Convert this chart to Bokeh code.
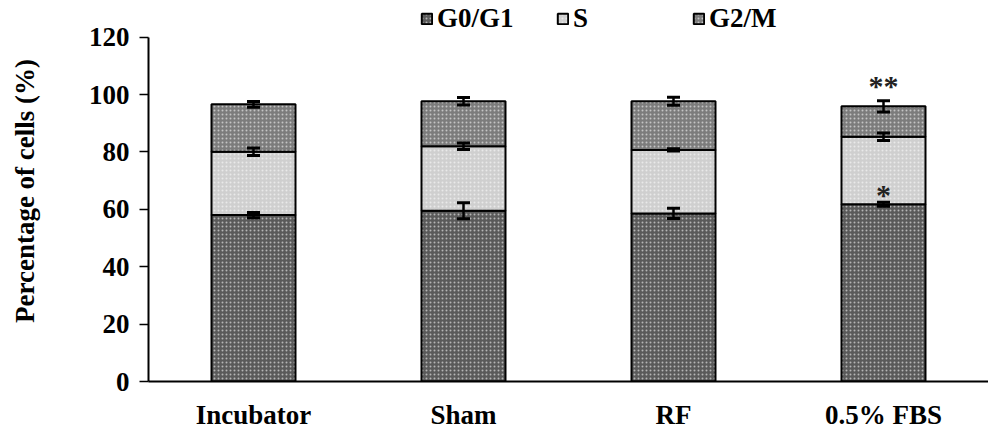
from bokeh.plotting import figure
from bokeh.models import ColumnDataSource, FactorRange, FixedTicker, Whisker, TeeHead, Legend, LegendItem, Range1d
from bokeh.core.properties import value
from bokeh.embed import file_html
from bokeh.resources import INLINE

categories = ["Incubator", "Sham", "RF", "0.5% FBS"]
g0g1 = [58.0, 59.5, 58.6, 61.8]
s_phase = [22.1, 22.5, 22.1, 23.5]
g2m = [16.5, 15.7, 17.0, 10.6]
g0g1_err = [0.9, 2.8, 1.8, 0.7]
s_err = [1.3, 1.1, 0.4, 1.3]
g2m_err = [1.0, 1.3, 1.4, 2.0]
significance_g0g1 = ["", "", "", "*"]
significance_g2m = ["", "", "", "**"]
y_ticks = [0, 20, 40, 60, 80, 100, 120]

FONT = "Liberation Serif"

s_bottom = g0g1
s_top = [a + b for a, b in zip(g0g1, s_phase)]
g_top = [a + b for a, b in zip(s_top, g2m)]

src = ColumnDataSource(dict(
    cat=categories, g0g1=g0g1, s_bottom=s_bottom, s_top=s_top, g_top=g_top,
    g0_lo=[v - e for v, e in zip(g0g1, g0g1_err)], g0_hi=[v + e for v, e in zip(g0g1, g0g1_err)],
    s_lo=[v - e for v, e in zip(s_top, s_err)], s_hi=[v + e for v, e in zip(s_top, s_err)],
    g_lo=[v - e for v, e in zip(g_top, g2m_err)], g_hi=[v + e for v, e in zip(g_top, g2m_err)],
    sig0=significance_g0g1, sig2=significance_g2m,
))

# frame spans the full height above the x axis; the y axis line itself stops at 120
p = figure(width=988, height=432, x_range=FactorRange(*categories, range_padding=0),
           y_range=Range1d(0, 132.8), output_backend="svg", toolbar_location=None,
           min_border_left=148, min_border_right=0, min_border_top=0, min_border_bottom=47)
p.outline_line_color = None
p.grid.grid_line_color = None
p.background_fill_color = "white"

common = dict(width=0.4, line_color="black", line_width=2, hatch_pattern="dot",
              hatch_color="white", hatch_alpha=0.55, hatch_scale=4, hatch_weight=1.2)
r1 = p.vbar(x="cat", bottom=0, top="g0g1", source=src, fill_color="#5a5a5a", **common)
r2 = p.vbar(x="cat", bottom="s_bottom", top="s_top", source=src, fill_color="#cfcfcf", **common)
r3 = p.vbar(x="cat", bottom="s_top", top="g_top", source=src, fill_color="#7c7c7c", **common)

for lo, hi in [("g0_lo", "g0_hi"), ("s_lo", "s_hi"), ("g_lo", "g_hi")]:
    w = Whisker(source=src, base="cat", lower=lo, upper=hi, line_color="black", line_width=2.5,
                level="annotation",
                upper_head=TeeHead(size=13, line_width=3, line_color="black"),
                lower_head=TeeHead(size=13, line_width=3, line_color="black"))
    p.add_layout(w)

t0 = p.text(x="cat", y="g0_hi", text="sig0", source=src, text_font=value(FONT), text_font_style="bold",
            text_font_size="30px", text_align="center", text_baseline="alphabetic", y_offset=-8,
            text_color="#222222")
t2 = p.text(x="cat", y="g_hi", text="sig2", source=src, text_font=value(FONT), text_font_style="bold",
            text_font_size="30px", text_align="center", text_baseline="alphabetic", y_offset=-15,
            text_color="#222222")
t0.level = "overlay"
t2.level = "overlay"

# axes
p.yaxis.ticker = FixedTicker(ticks=y_ticks)
p.yaxis.bounds = (0, 120)
p.yaxis.minor_tick_line_color = None
p.yaxis.major_tick_in = 0
p.yaxis.major_tick_out = 9
p.yaxis.major_tick_line_width = 1.5
p.yaxis.axis_line_width = 2
p.yaxis.axis_line_color = "black"
p.yaxis.major_label_text_font = FONT
p.yaxis.major_label_text_font_style = "bold"
p.yaxis.major_label_text_font_size = "27px"
p.yaxis.major_label_text_color = "black"
p.yaxis.major_label_standoff = 10
p.yaxis.axis_label = "Percentage of cells (%)"
p.yaxis.axis_label_text_font = FONT
p.yaxis.axis_label_text_font_style = "bold"
p.yaxis.axis_label_text_font_size = "27px"
p.yaxis.axis_label_text_color = "black"
p.yaxis.axis_label_standoff = 46

p.xaxis.major_tick_line_color = None
p.xaxis.minor_tick_line_color = None
p.xaxis.axis_line_width = 2
p.xaxis.axis_line_color = "black"
p.xaxis.major_label_text_font = FONT
p.xaxis.major_label_text_font_style = "bold"
p.xaxis.major_label_text_font_size = "27px"
p.xaxis.major_label_text_color = "black"
p.xaxis.major_label_standoff = 12

legend = Legend(items=[LegendItem(label="G0/G1", renderers=[r1]),
                       LegendItem(label="S", renderers=[r2]),
                       LegendItem(label="G2/M", renderers=[r3])],
                orientation="horizontal", location=(272, 347), padding=0, margin=0,
                border_line_color=None, background_fill_alpha=0,
                glyph_width=13, glyph_height=13, label_standoff=4, label_width=92, spacing=27,
                label_text_font=FONT, label_text_font_style="bold", label_text_font_size="27px",
                label_text_color="black")
p.add_layout(legend, "center")

open("out.html", "w").write(file_html(p, INLINE))
